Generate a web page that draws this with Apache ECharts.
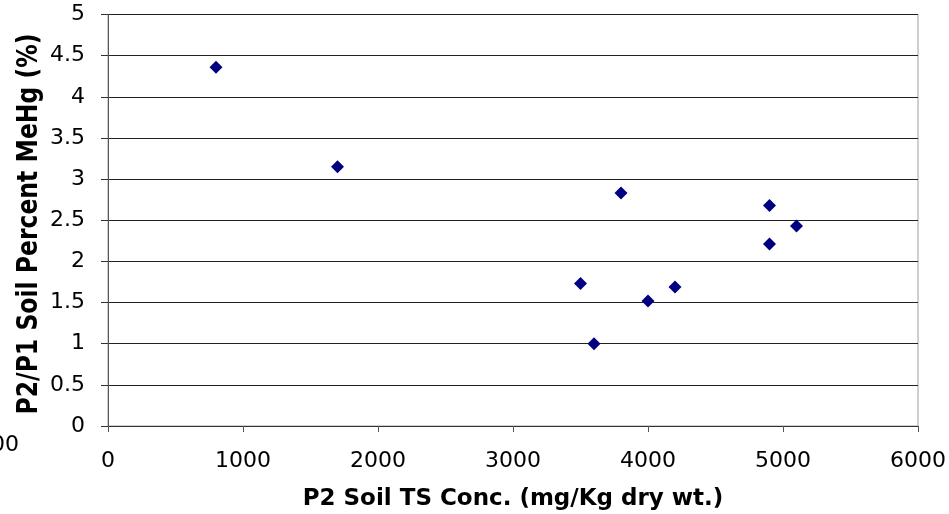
<!DOCTYPE html>
<html><head><meta charset="utf-8">
<script src="https://cdn.jsdelivr.net/npm/echarts@6/dist/echarts.min.js"></script>
<style>html,body{margin:0;padding:0;background:#fff}#c{width:949px;height:514px}</style>
</head><body><div id="c"></div>
<script>
var xValues = [800, 1700, 3500, 3600, 3800, 4000, 4200, 4900, 4900, 5100];
var yValues = [4.36, 3.15, 1.73, 1.0, 2.83, 1.52, 1.69, 2.68, 2.21, 2.43];
var xTitle = 'P2 Soil TS Conc. (mg/Kg dry wt.)';
var yTitle = 'P2/P1 Soil Percent MeHg (%)';
var strayText = '00';

var FONT = '"DejaVu Sans", Verdana, sans-serif';
var chart = echarts.init(document.getElementById('c'), null, {renderer: 'canvas'});
var pts = xValues.map(function (x, i) { return [x, yValues[i]]; });
chart.setOption({
  animation: false,
  grid: {left: 108, right: 31, top: 14.5, bottom: 88, show: true, borderColor: '#a0a0a0', borderWidth: 1,
         containLabel: false, outerBoundsMode: 'none'},
  xAxis: {
    type: 'value', min: 0, max: 6000, interval: 1000,
    name: xTitle, nameLocation: 'middle', nameGap: 62,
    nameTextStyle: {fontFamily: FONT, fontSize: 23, fontWeight: 'bold', color: '#000'},
    axisLine: {show: true, onZero: false, lineStyle: {color: '#333', width: 1}},
    axisTick: {show: true, inside: false, length: 6, lineStyle: {color: '#555'}},
    axisLabel: {fontFamily: FONT, fontSize: 22, color: '#000', margin: 24,
                formatter: function (v) { return String(v); }},
    splitLine: {show: false}
  },
  yAxis: {
    type: 'value', min: 0, max: 5, interval: 0.5,
    axisLine: {show: true, lineStyle: {color: '#555', width: 1}},
    axisTick: {show: true, inside: false, length: 7, lineStyle: {color: '#333'}},
    axisLabel: {fontFamily: FONT, fontSize: 22, color: '#000', margin: 23,
                formatter: function (v) { return String(v); }},
    splitLine: {show: true, lineStyle: {color: '#222', width: 1}}
  },
  graphic: [
    {type: 'text', left: -9, top: 434, style: {text: strayText, font: '22px ' + FONT, fill: '#000'}},
    {type: 'text', x: 30, y: 224, rotation: Math.PI / 2, scaleY: 1.2,
     style: {text: yTitle, font: 'bold 23.5px ' + FONT, fill: '#000', align: 'center', verticalAlign: 'middle'}}
  ],
  series: [{
    type: 'scatter', data: pts, symbol: 'diamond', symbolSize: 13,
    itemStyle: {color: '#000080', opacity: 1}
  }]
});
</script></body></html>
